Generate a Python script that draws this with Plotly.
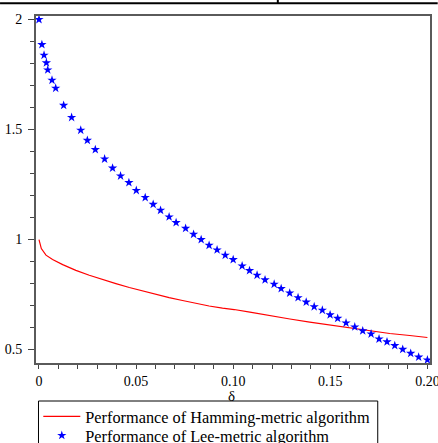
import plotly.graph_objects as go

# Hamming-metric algorithm (solid red line)
ham_delta = [0.0, 0.0012, 0.0036, 0.0070, 0.0122, 0.0190, 0.0259, 0.0328, 0.0396, 0.0465,
             0.0534, 0.0602, 0.0670, 0.0739, 0.0808, 0.0876, 0.0945, 0.1005, 0.1086, 0.1189,
             0.1292, 0.1394, 0.1497, 0.1600, 0.1703, 0.1806, 0.1909, 0.2000]
ham_perf = [1.0, 0.959, 0.929, 0.909, 0.886, 0.860, 0.838, 0.818, 0.800, 0.782,
            0.766, 0.751, 0.736, 0.723, 0.709, 0.698, 0.688, 0.682, 0.670, 0.653,
            0.639, 0.625, 0.612, 0.598, 0.585, 0.573, 0.564, 0.555]

# Lee-metric algorithm (blue star points)
lee_delta = [0.0, 0.0015, 0.0026, 0.0038, 0.0045, 0.0067, 0.0086, 0.0127, 0.0168, 0.0215,
             0.0249, 0.0290, 0.0338, 0.0379, 0.0420, 0.0463, 0.0501, 0.0547, 0.0588, 0.0626,
             0.0670, 0.0706, 0.0755, 0.0796, 0.0835, 0.0876, 0.0917, 0.0959, 0.1000, 0.1046,
             0.1084, 0.1123, 0.1164, 0.1211, 0.1247, 0.1291, 0.1334, 0.1376, 0.1417, 0.1459,
             0.1499, 0.1538, 0.1581, 0.1626, 0.1667, 0.1710, 0.1751, 0.1792, 0.1832, 0.1873,
             0.1914, 0.1955, 0.2000]
lee_perf = [2.0, 1.886, 1.838, 1.803, 1.771, 1.724, 1.688, 1.610, 1.555, 1.497,
            1.451, 1.409, 1.366, 1.325, 1.289, 1.259, 1.223, 1.191, 1.160, 1.133,
            1.103, 1.077, 1.051, 1.024, 1.000, 0.974, 0.953, 0.929, 0.909, 0.880,
            0.859, 0.838, 0.817, 0.797, 0.777, 0.757, 0.736, 0.716, 0.695, 0.679,
            0.658, 0.642, 0.621, 0.603, 0.585, 0.571, 0.548, 0.535, 0.518, 0.501,
            0.483, 0.466, 0.453]

x_tickvals = [0, 0.05, 0.10, 0.15, 0.20]
x_ticktext = ["0", "0.05", "0.10", "0.15", "0.20"]
y_tickvals = [0.5, 1, 1.5, 2]
y_ticktext = ["0.5", "1", "1.5", "2"]
x_title = "δ"

SERIF = "Liberation Serif"

# plot area in pixels: left 36, right 430.3, top 15.7, bottom 362.7
PW, PH = 394.3, 347.0
def px(xp):
    return (xp - 36) / PW
def py(yp):
    return (362.7 - yp) / PH

fig = go.Figure()
fig.add_trace(go.Scatter(
    x=ham_delta, y=ham_perf, mode="lines",
    line=dict(color="#ff0000", width=1.2),
    name="Performance of Hamming-metric algorithm", legend="legend"))
fig.add_trace(go.Scatter(
    x=lee_delta, y=lee_perf, mode="markers",
    marker=dict(symbol="star", size=7, color="#0000ff", line=dict(width=0)),
    name="Performance of Lee-metric algorithm", legend="legend2"))

leg_common = dict(xanchor="left", yanchor="top", borderwidth=0,
                  bgcolor="rgba(0,0,0,0)",
                  font=dict(family=SERIF, size=16.3, color="black"),
                  itemwidth=37)

fig.update_layout(
    width=438, height=443,
    margin=dict(l=36, r=8, t=16, b=80, autoexpand=False),
    paper_bgcolor="white", plot_bgcolor="white",
    font=dict(family=SERIF, size=14, color="black"),
    showlegend=True,
    legend=dict(x=px(38.3), y=py(399.0), **leg_common),
    legend2=dict(x=px(38.3), y=py(418.0), **leg_common),
    xaxis=dict(
        range=[-0.00154, 0.20134], tickvals=x_tickvals, ticktext=x_ticktext,
        ticks="outside", ticklen=4, tickcolor="#444", tickwidth=1,
        minor=dict(dtick=0.01, tick0=0, ticks="outside", ticklen=4, tickcolor="#444"),
        showline=True, linecolor="#5a5a5a", linewidth=2, mirror=True,
        showgrid=False, zeroline=False, ticklabelstandoff=0,
        ticklabeloverflow="allow",
        tickfont=dict(family=SERIF, size=14, color="black")),
    yaxis=dict(
        range=[0.439, 2.016], tickvals=y_tickvals, ticktext=y_ticktext,
        ticks="outside", ticklen=6, tickcolor="#444", tickwidth=1,
        minor=dict(dtick=0.1, tick0=0, ticks="outside", ticklen=4, tickcolor="#444"),
        showline=True, linecolor="#5a5a5a", linewidth=2, mirror=True,
        showgrid=False, zeroline=False, ticklabelstandoff=3,
        tickfont=dict(family=SERIF, size=14, color="black")),
    annotations=[
        dict(text=x_title, xref="paper", yref="paper", x=px(232), y=py(395.5),
             xanchor="center", yanchor="middle", showarrow=False,
             borderpad=0, font=dict(family=SERIF, size=15, color="black")),
    ],
    shapes=[
        # cropped table border at the top of the image
        dict(type="line", xref="paper", yref="paper",
             x0=px(0), x1=px(438), y0=py(3), y1=py(3),
             line=dict(color="black", width=2)),
        dict(type="line", xref="paper", yref="paper",
             x0=px(278), x1=px(278), y0=py(3), y1=py(-2),
             line=dict(color="black", width=2)),
        # legend frame
        dict(type="rect", xref="paper", yref="paper",
             x0=px(38.5), x1=px(378), y0=py(400.7), y1=py(460),
             line=dict(color="black", width=1), layer="below"),
    ],
)

fig.write_html("out.html",
               config={"displayModeBar": False},
               post_script="document.body.style.margin='0px';document.body.style.overflow='hidden';")
